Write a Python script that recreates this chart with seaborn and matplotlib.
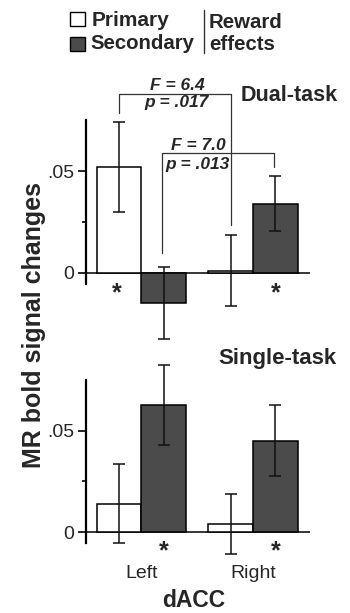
import matplotlib
matplotlib.use("Agg")
import matplotlib.pyplot as plt
from matplotlib.patches import Rectangle
from matplotlib.lines import Line2D
import seaborn as sns
import pandas as pd

# ---- data ----
regions = ["Left", "Right"]
reward_types = ["Primary", "Secondary"]

dual_primary = [0.052, 0.001]
dual_secondary = [-0.015, 0.034]
dual_primary_err = [0.022, 0.0176]
dual_secondary_err = [0.0177, 0.0135]

single_primary = [0.014, 0.004]
single_secondary = [0.0624, 0.0451]
single_primary_err = [0.0195, 0.0148]
single_secondary_err = [0.0197, 0.0176]

yticks = [0, 0.05]
ytick_labels = ["0", ".05"]
panel_titles = ["Dual-task", "Single-task"]
ylabel = "MR bold signal changes"
xlabel = "dACC"

sns.set_style("white")
plt.rcParams["font.family"] = ["Liberation Sans", "DejaVu Sans"]

W, H = 350, 613
fig = plt.figure(figsize=(W / 100, H / 100), dpi=100)


def fx(px):
    return px / W


def fy(py):
    return 1 - py / H


palette = {"Primary": "white", "Secondary": "#4b4b4b"}


def make_df(prim, sec):
    rows = []
    for r, p, s in zip(regions, prim, sec):
        rows.append({"region": r, "reward": "Primary", "value": p})
        rows.append({"region": r, "reward": "Secondary", "value": s})
    return pd.DataFrame(rows)


def draw_panel(ax, prim, sec, perr, serr, ylim):
    df = make_df(prim, sec)
    sns.barplot(data=df, x="region", y="value", hue="reward", order=regions,
                hue_order=reward_types, palette=palette, edgecolor="black",
                linewidth=1.1, errorbar=None, legend=False, saturation=1,
                width=0.8, ax=ax, zorder=3)
    # error bars at bar centres
    errs = {}
    for i, r in enumerate(regions):
        errs[(r, "Primary")] = perr[i]
        errs[(r, "Secondary")] = serr[i]
    bars = sorted(ax.patches, key=lambda p: p.get_x())
    keys = [(r, t) for r in regions for t in reward_types]
    xs, ys, es = [], [], []
    for b, k in zip(bars, keys):
        xs.append(b.get_x() + b.get_width() / 2)
        ys.append(b.get_y() + b.get_height())
        es.append(errs[k])
    ax.errorbar(xs, ys, yerr=es, fmt="none", ecolor="#111111", elinewidth=1.1,
                capsize=4.2, capthick=1.1, zorder=5)
    ax.axhline(0, color="black", lw=1.1, zorder=2)
    ax.set_xlim(-0.5, 1.51)
    ax.set_ylim(*ylim)
    for s in ["top", "right", "bottom"]:
        ax.spines[s].set_visible(False)
    ax.spines["left"].set_color("black")
    ax.spines["left"].set_linewidth(1.6)
    ax.spines["left"].set_bounds(-0.0055, 0.075)
    ax.set_yticks(yticks, ytick_labels)
    ax.set_yticks([0.025], minor=True)
    ax.tick_params(axis="y", which="major", length=6, width=1.2, labelsize=14,
                   pad=2, left=True, color="black")
    ax.tick_params(axis="y", which="minor", length=3, width=1.2, left=True,
                   color="black")
    ax.tick_params(axis="x", length=0)
    ax.set_ylabel("")
    ax.set_xlabel("")
    return xs


# ---- top panel (dual-task) ----
ax1 = fig.add_axes([85.7 / W, 0.4225, 224.3 / W, 0.398])
xs1 = draw_panel(ax1, dual_primary, dual_secondary, dual_primary_err,
                 dual_secondary_err, (-0.04, 0.08))
ax1.set_xticklabels([])

# ---- bottom panel (single-task) ----
ax2 = fig.add_axes([85.7 / W, 0.0819, 224.3 / W, 0.3318])
xs2 = draw_panel(ax2, single_primary, single_secondary, single_primary_err,
                 single_secondary_err, (-0.015, 0.085))
ax2.tick_params(axis="x", labelsize=14, pad=1.5)
ax2.set_xlabel(xlabel, fontsize=16.5, fontweight="bold")
ax2.xaxis.set_label_coords(0.483, -0.131)

# ---- panel titles ----
ax1.text(1.755, 0.0845, panel_titles[0], ha="right", va="baseline",
         fontsize=15.5, fontweight="bold", clip_on=False)
ax2.text(1.75, 0.0826, panel_titles[1], ha="right", va="baseline",
         fontsize=16, fontweight="bold", clip_on=False)

# ---- significance brackets (dual-task) ----
bk = dict(color="#333333", lw=0.9, clip_on=False, zorder=6)
ax1.plot([xs1[0], xs1[0], xs1[2], xs1[2]], [0.0785, 0.0879, 0.0879, 0.0234], **bk)
ax1.plot([xs1[1] - 0.015, xs1[1] - 0.015, xs1[3] - 0.01, xs1[3] - 0.01],
         [0.0095, 0.0587, 0.0587, 0.052], **bk)
st = dict(ha="center", va="baseline", fontsize=12.5, fontweight="bold",
          fontstyle="italic", clip_on=False)
ax1.text(0.317, 0.0899, "F = 6.4", **st)
ax1.text(0.317, 0.0817, "p = .017", **st)
ax1.text(0.506, 0.0605, "F = 7.0", **st)
ax1.text(0.506, 0.0509, "p = .013", **st)

# ---- asterisks ----
ak = dict(ha="center", va="baseline", fontsize=18, fontweight="bold", clip_on=False)
ax1.text(xs1[0] - 0.02, -0.0136, "*", **ak)
ax1.text(xs1[3], -0.0136, "*", **ak)
ax2.text(xs2[1], -0.0128, "*", **ak)
ax2.text(xs2[3], -0.0128, "*", **ak)

# ---- y label ----
fig.text(fx(34), fy(325), ylabel, rotation=90, ha="center", va="center",
         fontsize=18, fontweight="bold")

# ---- legend ----
fig.add_artist(Rectangle((fx(70), fy(25.5)), 14.5 / W, 13.5 / H,
                         transform=fig.transFigure, facecolor=palette["Primary"],
                         edgecolor="black", lw=1.0))
fig.add_artist(Rectangle((fx(70), fy(51)), 14.5 / W, 14 / H,
                         transform=fig.transFigure, facecolor=palette["Secondary"],
                         edgecolor="black", lw=1.0))
fig.text(fx(92), fy(26.5), reward_types[0], fontsize=15, fontweight="bold",
         va="baseline", ha="left")
fig.text(fx(90), fy(49.3), reward_types[1], fontsize=14.7, fontweight="bold",
         va="baseline", ha="left")
fig.add_artist(Line2D([fx(204), fx(204)], [fy(10), fy(53)],
                      transform=fig.transFigure, color="#333333", lw=1.0))
fig.text(fx(209), fy(28.3), "Reward", fontsize=14.7, fontweight="bold",
         va="baseline", ha="left")
fig.text(fx(209), fy(50), "effects", fontsize=14.7, fontweight="bold",
         va="baseline", ha="left")

fig.savefig("out.png", dpi=100)
